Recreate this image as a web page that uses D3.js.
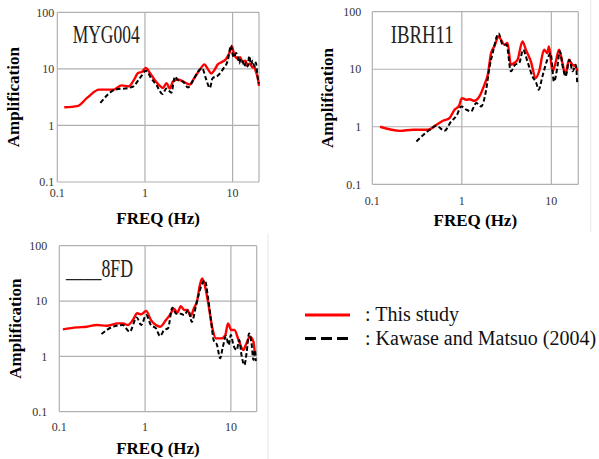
<!DOCTYPE html>
<html>
<head>
<meta charset="utf-8">
<script src="https://cdn.jsdelivr.net/npm/d3@7"></script>
<style>
  body { margin: 0; background: #fff; }
  text { font-family: "Liberation Serif", "Times New Roman", serif; }
</style>
</head>
<body>
<svg width="599" height="459"></svg>
<script>
// Tick values shared by all three panels
const xTicks = [0.1, 1, 10];
const yTicks = [0.1, 1, 10, 100];
const tickLabels = {0.1: "0.1", 1: "1", 10: "10", 100: "100"};

// MYG004: [freq Hz, amplification]
const mygStudy = [[0.12,2.1],[0.17,2.2],[0.22,3.1],[0.30,4.3],[0.44,4.3],[0.54,5.1],[0.65,4.9],[0.74,6.2],[0.84,8.5],[0.92,8.8],[1.02,10.4],[1.14,8.5],[1.30,6.3],[1.48,5.0],[1.61,4.6],[1.76,5.6],[1.92,4.5],[2.09,6.0],[2.38,6.5],[2.84,5.8],[3.24,5.3],[3.68,7.0],[4.2,9.5],[4.78,12],[5.2,10],[5.69,8.3],[6.2,9.5],[6.77,12],[7.38,13],[8.41,15],[9.18,19],[9.84,25],[10.4,18],[10.9,16],[11.4,15],[12.2,16],[13,13],[14.0,14],[14.8,11.5],[15.8,12.5],[16.9,10.5],[17.6,11],[18.4,9],[19.3,7],[20,5]];
const mygKawase = [[0.31,2.5],[0.46,4.3],[0.65,4.6],[0.74,4.9],[0.84,6.3],[0.93,7.8],[1.02,9.3],[1.18,6.8],[1.36,5.1],[1.58,3.6],[1.76,4.5],[2.0,3.8],[2.2,7.3],[2.38,6.3],[2.73,5.9],[3.1,4.7],[3.55,6.3],[4.0,8.8],[4.5,10.2],[4.95,6.8],[5.5,4.6],[5.9,6.8],[6.8,7.6],[7.8,10],[8.8,14],[9.6,26],[10.0,18],[10.4,16],[10.9,19],[11.4,17],[11.9,12.5],[12.4,15],[13,14],[13.6,11],[14.2,13],[14.8,11],[15.5,17],[16.2,12],[17,14],[17.7,11],[18.4,13],[19.2,7.5],[20,5.5]];

// IBRH11
const ibrStudy = [[0.122,1.0],[0.203,0.85],[0.286,0.89],[0.42,0.89],[0.52,1.08],[0.615,1.27],[0.73,1.42],[0.83,1.98],[0.93,2.3],[1.0,3.15],[1.12,2.95],[1.22,3.0],[1.38,2.83],[1.57,3.36],[1.79,5.4],[1.95,8.0],[2.12,19],[2.31,25],[2.58,37],[2.74,32.6],[2.98,26.7],[3.24,28.5],[3.53,12],[3.85,12.8],[4.19,14.6],[4.76,30.5],[5.19,21.8],[5.9,13.7],[6.7,7.0],[7.3,9.2],[8.3,21.8],[9.0,19],[9.4,25],[10.3,9.2],[11,12],[12.2,21.8],[13.3,12.8],[14.4,8.0],[15.7,14.6],[17.1,12],[18.7,11.2],[19.5,9.2]];
const ibrKawase = [[0.311,0.556],[0.44,0.89],[0.52,1.04],[0.64,0.85],[0.76,1.24],[0.87,1.55],[0.99,2.26],[1.12,1.98],[1.27,1.85],[1.45,2.58],[1.64,2.26],[1.87,4.4],[2.03,10.5],[2.21,19],[2.58,42],[2.86,26.7],[3.16,26.7],[3.53,9.2],[3.94,12],[4.37,12.8],[4.84,21.8],[5.4,13.7],[6.15,7.5],[6.8,5.75],[7.2,4.4],[7.95,7.5],[9.0,14.6],[9.8,19],[10.7,6.1],[11.7,11.2],[12.4,20.5],[13.5,10.5],[14.4,7.5],[15.9,14.6],[17.3,9.2],[18.7,12],[19.5,5.4]];

// ____8FD
const fdStudy = [[0.11,3.08],[0.16,3.34],[0.209,3.43],[0.272,3.68],[0.355,3.57],[0.484,3.95],[0.553,3.95],[0.63,3.68],[0.72,4.53],[0.81,6.0],[0.9,5.74],[1.03,6.6],[1.17,4.53],[1.34,3.68],[1.5,3.43],[1.75,4.53],[1.94,5.57],[2.18,7.2],[2.38,6.15],[2.61,8.1],[2.85,6.9],[3.11,6.9],[3.4,5.35],[3.71,7.4],[4.06,10.4],[4.35,19.4],[4.63,25.7],[5.06,16.9],[5.53,7.9],[6.04,3.43],[6.72,2.11],[7.74,2.11],[8.61,2.43],[9.25,3.95],[10.1,2.99],[11,2.99],[12.3,1.97],[14,1.3],[14.9,1.6],[16.7,2.26],[18.3,1.84],[19.1,1.06]];
const fdKawase = [[0.31,2.53],[0.42,3.43],[0.55,3.68],[0.66,2.78],[0.8,5.06],[0.9,3.68],[1.03,5.57],[1.17,3.68],[1.34,3.21],[1.49,2.33],[1.67,2.99],[1.85,3.21],[2.08,7.6],[2.3,5.9],[2.61,5.9],[2.85,5.57],[3.2,6.9],[3.5,4.2],[3.9,7.9],[4.24,13.6],[4.63,20.7],[4.98,23.8],[5.4,11.9],[5.83,4.86],[6.3,1.97],[6.9,1.6],[7.5,0.92],[8.0,1.4],[8.8,2.33],[9.4,1.6],[10,2.43],[10.7,1.6],[11.7,1.3],[12.5,1.97],[13.4,0.98],[14.4,0.7],[15.3,1.21],[16.3,2.6],[17.5,1.6],[18.3,0.86],[19.1,1.3],[19.5,0.82]];

const panels = [
  {name: "MYG004", study: mygStudy, kawase: mygKawase,
   left: 57.3, right: 259, top: 12.3, bottom: 182, yGap: 3, xGap: 11,
   ampX: 12.7, freqY: 218, nameX: 72.7, nameY: 43, nameW: 67},
  {name: "IBRH11", study: ibrStudy, kawase: ibrKawase,
   left: 372.3, right: 578.3, top: 11.7, bottom: 184.3, yGap: 11, xGap: 16,
   ampX: 327.5, freqY: 220, nameX: 390.7, nameY: 43, nameW: 63, edge: 590.7},
  {name: "____8FD", study: fdStudy, kawase: fdKawase,
   left: 59.3, right: 256.7, top: 245.7, bottom: 411.7, yGap: 12, xGap: 15,
   ampX: 15.5, freqY: 448, nameX: 66, nameY: 277, nameW: 67, edge: 268}
];

const svg = d3.select("svg");
const grid = "#b0b0b0";

panels.forEach(p => {
  const x = d3.scaleLog().domain([0.1, 20]).range([p.left, p.right]);
  const y = d3.scaleLog().domain([0.1, 100]).range([p.bottom, p.top]);
  const g = svg.append("g");

  // faint outer border of the chart object
  if (p.edge) {
    g.append("line")
      .attr("x1", p.edge).attr("x2", p.edge)
      .attr("y1", p.top - 12).attr("y2", p.bottom + 48)
      .attr("stroke", "#e6e6e6").attr("stroke-width", 1);
  }

  // horizontal grid
  g.selectAll(".hg").data(yTicks).join("line")
    .attr("x1", p.left).attr("x2", p.right)
    .attr("y1", d => y(d)).attr("y2", d => y(d))
    .attr("stroke", grid).attr("stroke-width", 1.2);

  // vertical grid, plus right border
  g.selectAll(".vg").data(xTicks.concat([20])).join("line")
    .attr("x1", d => x(d)).attr("x2", d => x(d))
    .attr("y1", p.top).attr("y2", p.bottom)
    .attr("stroke", grid).attr("stroke-width", 1.2);

  // tick labels
  g.selectAll(".yl").data(yTicks).join("text")
    .attr("x", p.left - p.yGap).attr("y", d => y(d)).attr("dy", "0.35em")
    .attr("text-anchor", "end").attr("font-size", 12).attr("fill", "#333")
    .text(d => tickLabels[d]);

  g.selectAll(".xl").data(xTicks).join("text")
    .attr("x", d => x(d)).attr("y", p.bottom + p.xGap).attr("dy", "0.35em")
    .attr("text-anchor", "middle").attr("font-size", 12).attr("fill", "#333")
    .text(d => tickLabels[d]);

  // axis titles
  g.append("text")
    .attr("transform", `translate(${p.ampX},${(p.top + p.bottom) / 2}) rotate(-90)`)
    .attr("dy", "0.35em").attr("text-anchor", "middle")
    .attr("font-size", 17).attr("font-weight", "bold")
    .text("Amplification");

  g.append("text")
    .attr("x", (p.left + p.right) / 2).attr("y", p.freqY).attr("dy", "0.35em")
    .attr("text-anchor", "middle")
    .attr("font-size", 17).attr("font-weight", "bold")
    .text("FREQ (Hz)");

  // station name
  g.append("text")
    .attr("x", p.nameX).attr("y", p.nameY)
    .attr("font-size", 25).attr("fill", "#222")
    .attr("textLength", p.nameW).attr("lengthAdjust", "spacingAndGlyphs")
    .text(p.name);

  const line = d3.line()
    .x(d => x(d[0])).y(d => y(d[1]))
    .curve(d3.curveMonotoneX);

  g.append("path").datum(p.study)
    .attr("d", line).attr("fill", "none")
    .attr("stroke", "#ff0000").attr("stroke-width", 2.4);

  g.append("path").datum(p.kawase)
    .attr("d", line).attr("fill", "none")
    .attr("stroke", "#000").attr("stroke-width", 2)
    .attr("stroke-dasharray", "4.5,2.5");
});

// legend
const legendItems = [
  {label: ": This study", color: "#ff0000", dash: null},
  {label: ": Kawase and Matsuo (2004)", color: "#000", dash: "11,5"}
];
const lg = svg.append("g").attr("transform", "translate(305,315)");
legendItems.forEach((d, i) => {
  lg.append("line")
    .attr("x1", 0).attr("x2", 45)
    .attr("y1", i * 23.5).attr("y2", i * 23.5)
    .attr("stroke", d.color).attr("stroke-width", 3.2)
    .attr("stroke-dasharray", d.dash);
  lg.append("text")
    .attr("x", 60).attr("y", i * 23.5 - 1).attr("dy", "0.35em")
    .attr("font-size", 20).attr("fill", "#111")
    .text(d.label);
});
</script>
</body>
</html>
